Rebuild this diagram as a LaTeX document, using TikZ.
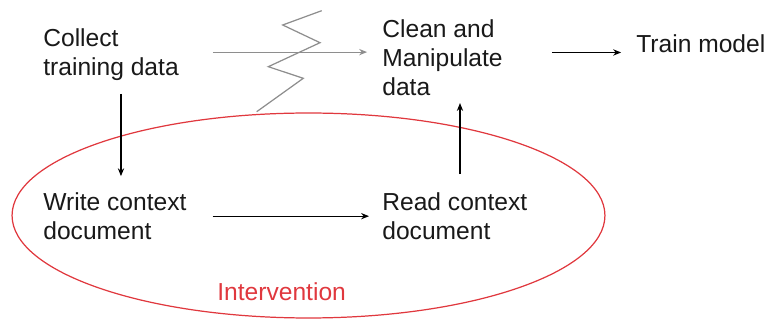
\documentclass[tikz,border=0pt]{standalone}
\usepackage{fontspec}
\setmainfont{Liberation Sans}
\usetikzlibrary{arrows.meta,positioning,shapes.geometric}
\definecolor{zapgray}{HTML}{8E8E8E}
\definecolor{intred}{HTML}{E0383E}

\begin{document}
\begin{tikzpicture}[x=0.02cm,y=-0.02cm,>={Stealth[length=4.5pt,width=3.6pt]}]
    \useasboundingbox (0,0) rectangle (767,320);
    \tikzstyle{step_node}=[anchor=north west,inner sep=0pt,align=left,text=black!90,font=\fontsize{14}{16.5}\selectfont]
    \tikzstyle{flow}=[->,black,line width=0.6pt]

    % the loop round the two context steps
    \node[ellipse,draw=intred,line width=0.7pt,inner sep=0pt,minimum width=11.86cm,minimum height=4.1cm] (loop) at (308.5,215.5) {};

    \node[step_node] (collect) at (43,28.3)  {Collect\\training data};
    \node[step_node] (clean)   at (382,19.3) {Clean and\\Manipulate\\data};
    \node[step_node] (train)   at (636,34.3) {Train model};
    \node[step_node] (write)   at (43,192.3) {Write context\\document};
    \node[step_node] (read)    at (382,192.3) {Read context\\document};
    \node[step_node,text=intred] (interv) at (217,282.7) {Intervention};

    % blocked direct path
    \draw[->,zapgray,line width=0.6pt,shorten <=19.3pt,shorten >=8.5pt] ([yshift=0.05cm]collect.east) -- ([yshift=0.05cm]collect.east -| clean.west);
    \draw[zapgray,line width=0.7pt] (321.7,10.7) -- (282.7,25) -- (320,42.7) -- (268.3,66.7) -- (303.3,78.3) -- (256.7,111.7);

    \draw[flow,shorten <=7.4pt,shorten >=9.2pt] ([xshift=1.56cm]collect.south west) -- ([xshift=1.56cm]collect.south west |- write.north);
    \draw[flow,shorten <=14.7pt,shorten >=7.4pt] (write.east) -- (write.east -| read.west);
    \draw[flow,shorten <=10.4pt,shorten >=4pt] ([xshift=1.56cm]read.north west) -- ([xshift=1.56cm]read.north west |- clean.south);
    \draw[flow,shorten <=27.8pt,shorten >=8.5pt] (clean.east |- train.base) -- (train.base west);
\end{tikzpicture}
\end{document}
